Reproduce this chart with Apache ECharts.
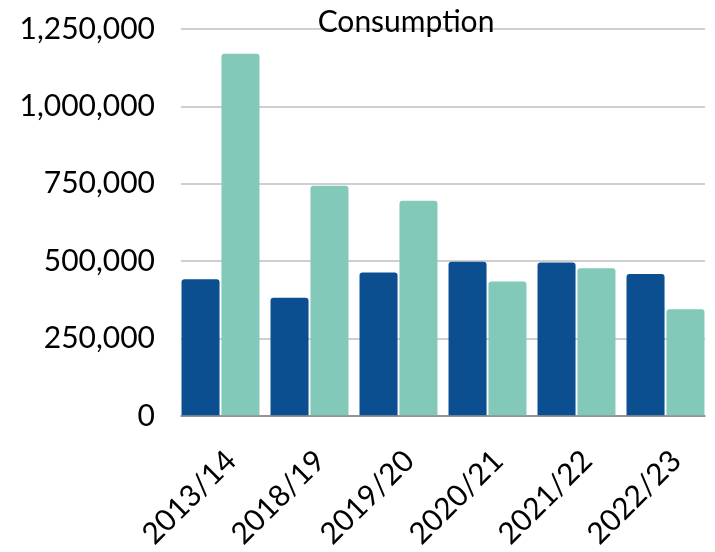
<!DOCTYPE html>
<html>
<head>
<meta charset="utf-8">
<script src="https://cdn.jsdelivr.net/npm/echarts@6/dist/echarts.min.js"></script>
<style>
  html, body { margin: 0; padding: 0; background: #fff; }
  #chart { width: 715px; height: 552px; }
</style>
</head>
<body>
<div id="chart"></div>
<script>
// Consumption by year, two series per year
const years = ['2013/14', '2018/19', '2019/20', '2020/21', '2021/22', '2022/23'];
const seriesA = [440000, 380000, 462000, 497000, 494000, 457000];
const seriesB = [1170000, 743000, 694000, 433000, 476000, 343000];
const yTicks = { min: 0, max: 1250000, interval: 250000 };

const FONT = 'Lato';
const chart = echarts.init(document.getElementById('chart'), null, { renderer: 'canvas' });

const fmt = v => v.toLocaleString('en-US');

chart.setOption({
  animation: false,
  backgroundColor: '#ffffff',
  title: {
    text: 'Consumption',
    left: 401,
    top: 2,
    textAlign: 'center',
    textStyle: { fontFamily: FONT, fontSize: 30, fontWeight: 'normal', color: '#000' }
  },
  grid: [
    // grid for gridlines, value labels and baseline
    { left: 181, right: 10, top: 29, bottom: 136 },
    // grid for the bars and category labels
    { left: 176, right: 5, top: 29, bottom: 136 }
  ],
  xAxis: [
    {
      gridIndex: 0, type: 'category', data: years,
      axisLine: { show: true, lineStyle: { color: '#808080', width: 1.5 } },
      axisTick: { show: false }, axisLabel: { show: false }, splitLine: { show: false }
    },
    {
      gridIndex: 1, type: 'category', data: years,
      axisLine: { show: false }, axisTick: { show: false },
      axisLabel: {
        rotate: 45, margin: 30, interval: 0, verticalAlign: 'top',
        fontFamily: FONT, fontSize: 30, color: '#000'
      }
    }
  ],
  yAxis: [
    {
      gridIndex: 0, type: 'value', min: yTicks.min, max: yTicks.max, interval: yTicks.interval,
      axisLine: { show: false }, axisTick: { show: false },
      axisLabel: { fontFamily: FONT, fontSize: 30, color: '#000', margin: 26, formatter: fmt },
      splitLine: { show: true, lineStyle: { color: '#bfbfbf', width: 1.5 } }
    },
    {
      gridIndex: 1, type: 'value', min: yTicks.min, max: yTicks.max, interval: yTicks.interval,
      show: false, splitLine: { show: false }
    }
  ],
  series: [
    {
      type: 'bar', xAxisIndex: 1, yAxisIndex: 1, data: seriesA,
      barGap: '5%', barCategoryGap: '12.4%',
      itemStyle: { color: '#0b4f91', borderRadius: [3, 3, 0, 0] }
    },
    {
      type: 'bar', xAxisIndex: 1, yAxisIndex: 1, data: seriesB,
      barGap: '5%', barCategoryGap: '12.4%',
      itemStyle: { color: '#82c9ba', borderRadius: [3, 3, 0, 0] }
    }
  ]
});
</script>
</body>
</html>
